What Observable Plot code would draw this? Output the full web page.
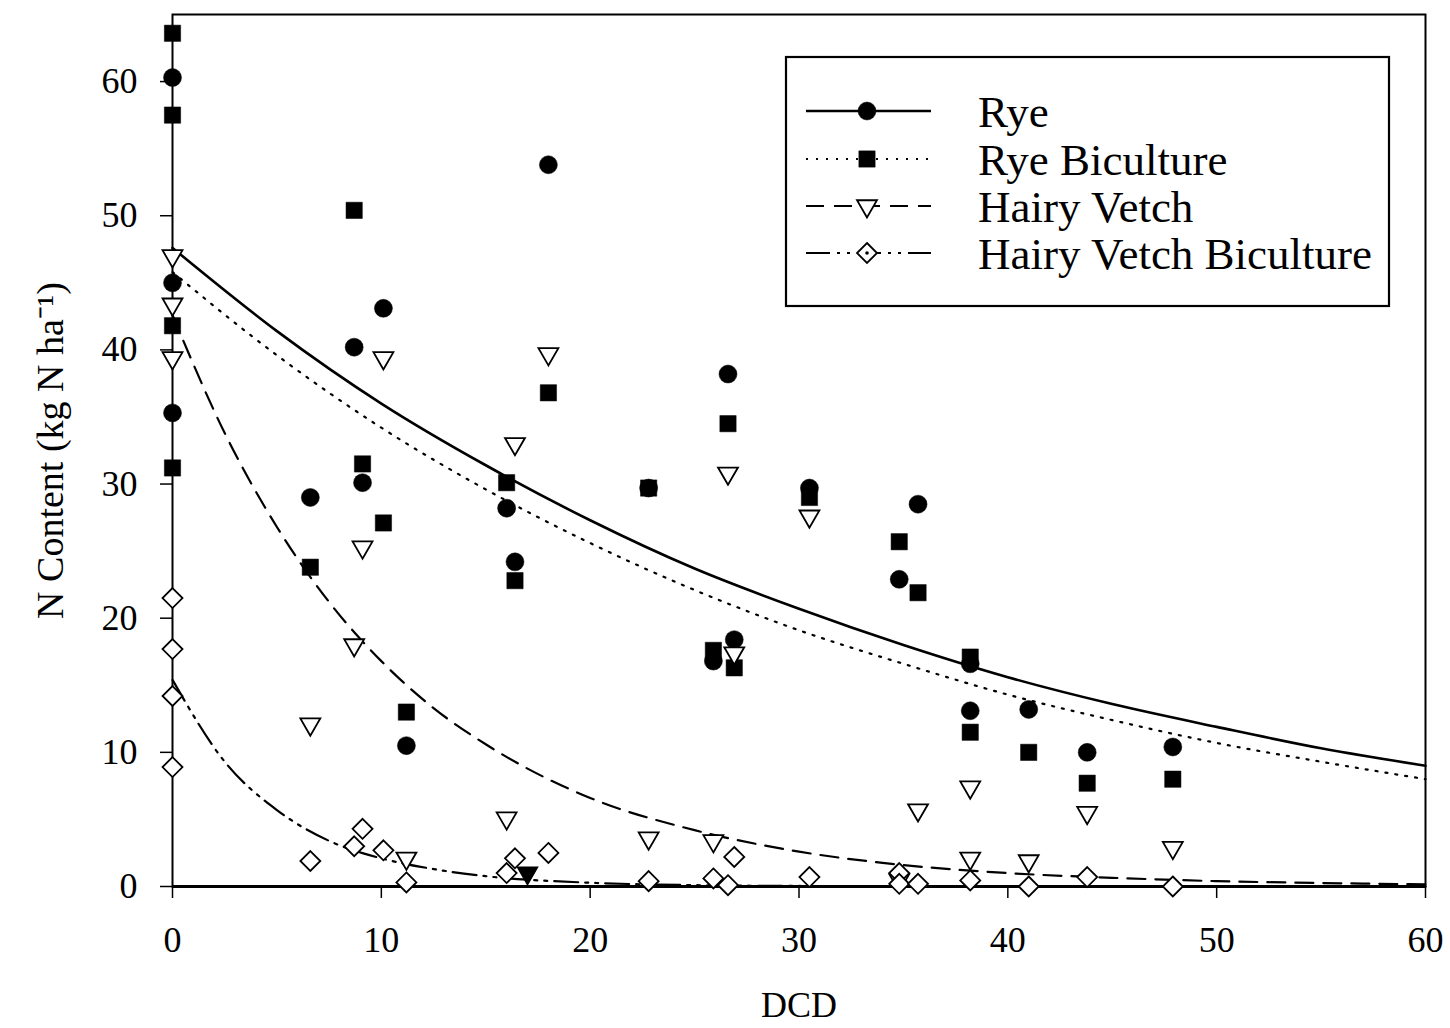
<!DOCTYPE html>
<html><head><meta charset="utf-8">
<script src="https://cdn.jsdelivr.net/npm/d3@7"></script>
<script src="https://cdn.jsdelivr.net/npm/@observablehq/plot@0.6"></script>
<style>html,body{margin:0;padding:0;background:#fff;} #chart{width:1450px;height:1028px;position:relative;}</style>
</head><body><div id="chart"></div>
<script>
// ---- data ----
const seriesNames = ["Rye", "Rye Biculture", "Hairy Vetch", "Hairy Vetch Biculture"];
const xTicks = [0, 10, 20, 30, 40, 50, 60];
const yTicks = [0, 10, 20, 30, 40, 50, 60];
const xLabel = "DCD";
const yLabel = "N Content (kg N ha\u207B\u00B9)";

const rye = [[0,60.3],[0,45.0],[0,35.3],[6.6,29.0],[8.7,40.2],[9.1,30.1],[10.1,43.1],[11.2,10.5],[16.0,28.2],[16.4,24.2],[18.0,53.8],[22.8,29.7],[25.9,16.8],[26.6,38.2],[26.9,18.4],[30.5,29.7],[34.8,22.9],[35.7,28.5],[38.2,16.6],[38.2,13.1],[41.0,13.2],[43.8,10.0],[47.9,10.4]];
const ryeBi = [[0,63.6],[0,57.5],[0,41.8],[0,31.2],[6.6,23.8],[8.7,50.4],[9.1,31.5],[10.1,27.1],[11.2,13.0],[16.0,30.1],[16.4,22.8],[18.0,36.8],[22.8,29.7],[25.9,17.6],[26.6,34.5],[26.9,16.3],[30.5,29.0],[34.8,25.7],[35.7,21.9],[38.2,17.1],[38.2,11.5],[41.0,10.0],[43.8,7.7],[47.9,8.0]];
const hv = [[0,47.0],[0,43.4],[0,39.4],[6.6,12.1],[8.7,18.0],[9.1,25.3],[10.1,39.4],[11.2,2.1],[16.0,5.1],[16.4,33.0],[18.0,39.7],[22.8,3.6],[25.9,3.4],[26.6,30.8],[26.9,17.4],[30.5,27.6],[34.8,0.5],[35.7,5.7],[38.2,7.4],[38.2,2.1],[41.0,1.9],[43.8,5.5],[47.9,2.9]];
const hvSolid = [[17.0,1.0]];
const hvBi = [[0,21.5],[0,17.7],[0,14.2],[0,8.9],[6.6,1.9],[8.7,3.0],[9.1,4.3],[10.1,2.7],[11.2,0.3],[16.0,1.0],[16.4,2.1],[18.0,2.5],[22.8,0.4],[25.9,0.6],[26.6,0.1],[26.9,2.2],[30.5,0.7],[34.8,1.0],[34.8,0.2],[35.7,0.2],[38.2,0.45],[41.0,0.0],[43.8,0.7],[47.9,0.0]];

// fitted curves, read at sample x positions
const ryeFitX = [0,5,10,15,20,25,30,35,40,45,50,55,60];
const ryeFitY = [47.6,41.4,36.0,31.4,27.3,23.7,20.7,18.0,15.6,13.6,11.9,10.3,9.0];
const ryeBiFitX = [0,5,10,15,20,25,30,35,40,45,50,55,60];
const ryeBiFitY = [45.8,39.6,34.2,29.6,25.6,22.1,19.1,16.6,14.3,12.4,10.7,9.3,8.0];
const hvFitX = [0,2.5,5,7.5,10,12.5,15,20,25,30,35,40,45,50,55,60];
const hvFitY = [42.6,33.8,26.8,21.2,16.8,13.3,10.6,6.6,4.2,2.6,1.6,1.0,0.65,0.4,0.26,0.16];
const hvBiFitX = [0,2.5,5,7.5,10,12.5,15,20,25,30,40,50,60];
const hvBiFitY = [15.4,9.3,5.7,3.4,2.1,1.3,0.77,0.28,0.1,0.04,0.01,0,0];

// ---- build ----
const pts = a => a.map(([x, y]) => ({x, y}));
const fit = (xs, ys) => xs.map((x, i) => ({x, y: ys[i]}));
const font = "'Liberation Serif', 'Times New Roman', serif";

const styles = [
  {dash: null, width: 2.6, symbol: "circle", r: 9, fill: "black", rotate: 0},
  {dash: "2,8", width: 2.2, symbol: "square", r: 9.2, fill: "black", rotate: 0},
  {dash: "18,10", width: 2.2, symbol: "triangle", r: 7.4, fill: "white", rotate: 180},
  {dash: "24,7,3,7,3,7", width: 2.2, symbol: "diamond2", r: 9, fill: "white", rotate: 0}
];
const fits = [fit(ryeFitX, ryeFitY), fit(ryeBiFitX, ryeBiFitY), fit(hvFitX, hvFitY), fit(hvBiFitX, hvBiFitY)];
const obs = [pts(rye), pts(ryeBi), pts(hv), pts(hvBi)];

const marks = [];
fits.forEach((d, i) => marks.push(Plot.line(d, {x: "x", y: "y", stroke: "black", strokeWidth: styles[i].width, strokeDasharray: styles[i].dash, curve: "monotone-x"})));
marks.push(Plot.frame({stroke: "black", strokeWidth: 2}));
marks.push(Plot.ruleY([0], {stroke: "black", strokeWidth: 3}));
marks.push(Plot.axisX({ticks: xTicks, tickSize: 12, tickPadding: 28, fontSize: 36, fontFamily: font, label: null, strokeWidth: 1.5}));
marks.push(Plot.axisY({ticks: yTicks, tickSize: 12, tickPadding: 23, fontSize: 36, fontFamily: font, label: null, strokeWidth: 1.5}));
obs.forEach((d, i) => {
  const s = styles[i];
  marks.push(Plot.dot(d, {x: "x", y: "y", symbol: s.symbol, r: s.r, fill: s.fill, stroke: "black", strokeWidth: s.fill === "white" ? 1.8 : 0.5, rotate: s.rotate}));
});
marks.push(Plot.dot(pts(hvSolid), {x: "x", y: "y", symbol: "triangle", r: 7.4, fill: "black", stroke: "black", rotate: 180}));
marks.push(Plot.text([xLabel], {text: d => d, frameAnchor: "bottom", dy: 119, fontSize: 36, fontFamily: font, lineAnchor: "middle", textAnchor: "middle", fill: "black"}));
marks.push(Plot.text([yLabel], {text: d => d, frameAnchor: "left", dx: -122, rotate: -90, fontSize: 38, fontFamily: font, lineAnchor: "middle", textAnchor: "middle", fill: "black"}));

const plot = Plot.plot({
  width: 1450, height: 1028,
  marginLeft: 172, marginRight: 25, marginTop: 14, marginBottom: 142,
  x: {domain: [0, 60]},
  y: {domain: [0, 65]},
  style: {fontFamily: font, background: "white", color: "black", overflow: "visible"},
  marks
});
document.getElementById("chart").appendChild(plot);

// ---- legend (annotation inside the plot area) ----
const svg = d3.select(plot);
const lg = svg.append("g").attr("class", "legend").attr("text-anchor", "start");
const box = {x: 786, y: 57, w: 603, h: 249};
lg.append("rect").attr("x", box.x).attr("y", box.y).attr("width", box.w).attr("height", box.h)
  .attr("fill", "white").attr("stroke", "black").attr("stroke-width", 2.2);
const rowY = [111, 159, 206, 253];
const symMap = {circle: d3.symbolCircle, square: d3.symbolSquare, triangle: d3.symbolTriangle, diamond2: d3.symbolDiamond2};
seriesNames.forEach((name, i) => {
  const s = styles[i];
  const y = rowY[i];
  lg.append("line").attr("x1", 806).attr("x2", 931).attr("y1", y).attr("y2", y)
    .attr("stroke", "black").attr("stroke-width", s.width).attr("stroke-dasharray", s.dash);
  lg.append("path").attr("d", d3.symbol(symMap[s.symbol], Math.PI * s.r * s.r)())
    .attr("transform", `translate(867,${y}) rotate(${s.rotate})`)
    .attr("fill", s.fill).attr("stroke", "black").attr("stroke-width", s.fill === "white" ? 1.8 : 0.5);
  if (i === 3) lg.append("circle").attr("cx", 867).attr("cy", y).attr("r", 1.8).attr("fill", "black");
  lg.append("text").attr("x", 978).attr("y", y).attr("dy", "0.35em").attr("font-size", 45)
    .attr("text-anchor", "start")
    .attr("font-family", font).attr("fill", "black").text(name);
});
</script>
</body></html>
